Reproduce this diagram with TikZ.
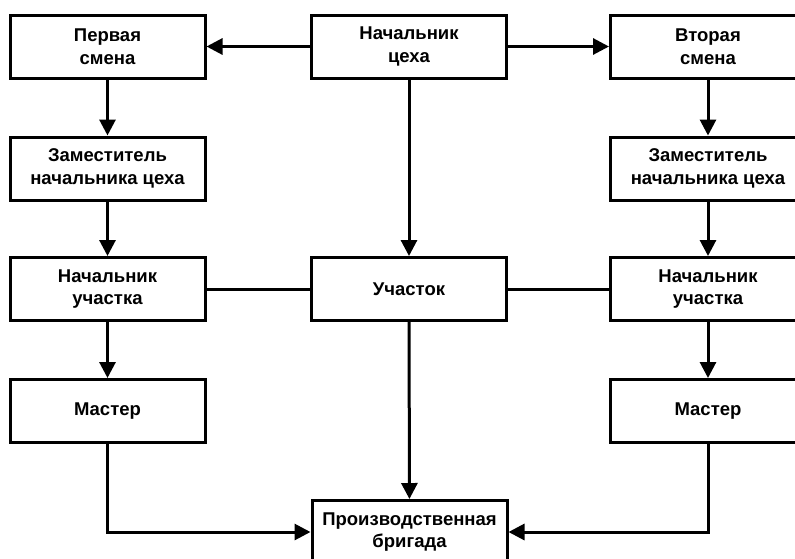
\documentclass[tikz,border=0pt]{standalone}
\usepackage{fontspec}
\setmainfont{Liberation Sans}
\usetikzlibrary{arrows.meta}
\tikzset{
  unit/.style={draw, line width=3pt, minimum width=195pt, minimum height=63pt,
    inner sep=0pt, align=center, font=\bfseries\fontsize{18.5}{22.5}\selectfont},
  link/.style={line width=3pt},
  flow/.style={line width=3pt, -{Triangle[length=16pt,width=16pt]}}
}
\begin{document}
\begin{tikzpicture}[x=1pt,y=-1pt]
  \useasboundingbox (0,0) rectangle (795,558);
  \clip (0,0) rectangle (795,558);
  % top row
  \node[unit] (head)   at (409,46.5)   {Начальник\\цеха};
  \node[unit] (shift1) at (107.5,46.5) {Первая\\смена};
  \node[unit] (shift2) at (708,46.5)   {Вторая\\смена};
  % deputies
  \node[unit] (dep1) at (107.5,168.5) {Заместитель\\начальника цеха};
  \node[unit] (dep2) at (708,168.5)   {Заместитель\\начальника цеха};
  % section level
  \node[unit] (sec1) at (107.5,289) {Начальник\\участка};
  \node[unit] (sect) at (409,289)   {Участок};
  \node[unit] (sec2) at (708,289)   {Начальник\\участка};
  % foremen
  \node[unit] (fm1) at (107.5,411) {Мастер};
  \node[unit] (fm2) at (708,411)   {Мастер};
  % brigade
  \node[unit] (crew) at (409.5,532) {Производственная\\бригада};

  % connectors
  \draw[flow] (head) -- (shift1);
  \draw[flow] (head) -- (shift2);
  \draw[flow] (head) -- (sect);
  \draw[flow] (shift1) -- (dep1);
  \draw[flow] (dep1) -- (sec1);
  \draw[flow] (sec1) -- (fm1);
  \draw[flow] (shift2) -- (dep2);
  \draw[flow] (dep2) -- (sec2);
  \draw[flow] (sec2) -- (fm2);
  \draw[link] (sec1) -- (sect);
  \draw[link] (sect) -- (sec2);
  \draw[flow] (sect) -- (crew);
  \draw[flow] (fm1.south) |- (crew.west);
  \draw[flow] (fm2.south) |- (crew.east);
\end{tikzpicture}
\end{document}
